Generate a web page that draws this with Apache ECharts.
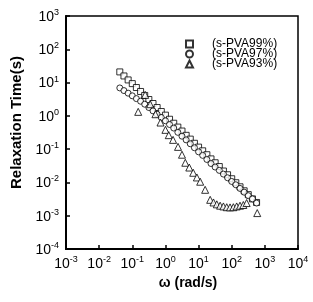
<!DOCTYPE html>
<html><head><meta charset="utf-8">
<script src="https://cdn.jsdelivr.net/npm/echarts@6/dist/echarts.min.js"></script>
<style>html,body{margin:0;padding:0;background:#fff}#c{width:313px;height:302px}</style>
</head><body><div id="c"></div>
<script>
// omega (rad/s) grid shared by the two upper series
const omega = [0.042,0.056,0.075,0.1,0.133,0.178,0.237,0.316,0.422,0.562,0.75,1.0,1.33,1.78,2.37,3.16,4.22,5.62,7.5,10,13.3,17.8,23.7,31.6,42.2,56.2,75,100,133,178,237,316,422,562];
// s-PVA99% relaxation time (s)
const tau99 = [20.9,15.8,12.0,9.3,7.1,5.4,4.1,3.1,2.35,1.78,1.35,1.05,0.79,0.60,0.46,0.35,0.26,0.20,0.15,0.115,0.089,0.068,0.051,0.039,0.030,0.022,0.017,0.0129,0.0098,0.0074,0.0056,0.0043,0.0032,0.0025];
// s-PVA97% relaxation time (s)
const tau97 = [6.9,5.75,4.8,4.0,3.3,2.75,2.24,1.78,1.41,1.12,0.89,0.71,0.55,0.43,0.32,0.245,0.19,0.145,0.11,0.083,0.065,0.049,0.037,0.029,0.023,0.0178,0.0138,0.0107,0.0085,0.0066,0.0051,0.0040,0.0032,0.0024];
// s-PVA93%
const omega93 = [0.151,0.245,0.347,0.50,0.71,1.0,1.26,1.70,2.40,3.16,3.98,5.25,6.9,8.9,11.2,15.8,22.4,28.2,35.5,44.7,56.2,70.8,89,112,141,178,224,282,589];
const tau93 = [1.32,4.27,2.24,1.12,0.63,0.38,0.263,0.19,0.117,0.068,0.039,0.028,0.0195,0.0141,0.0105,0.006,0.0030,0.0025,0.0022,0.0020,0.0019,0.0018,0.00178,0.0018,0.0019,0.0020,0.0021,0.0024,0.0012];
const seriesNames = ['(s-PVA99%)','(s-PVA97%)','(s-PVA93%)'];

const pair = (xs, ys) => xs.map((x, i) => [x, ys[i]]);
const supFmt = v => {
  const e = Math.round(Math.log10(v));
  return '{b|10}{s|' + e + '}';
};
const rich = {
  b: {fontSize: 14, fontFamily: 'Liberation Sans, Arial', color: '#000', lineHeight: 16, verticalAlign: 'bottom'},
  s: {fontSize: 9, fontFamily: 'Liberation Sans, Arial', color: '#000', lineHeight: 16, verticalAlign: 'top', padding: [0,0,6,0]}
};
const mk = {color: '#fff', borderColor: '#000', borderWidth: 1};
const chart = echarts.init(document.getElementById('c'));
chart.setOption({
  animation: false,
  backgroundColor: '#fff',
  grid: {left: 66, top: 16, right: 15, bottom: 53, show: true, borderColor: '#000', borderWidth: 1.5},
  legend: {
    orient: 'vertical', left: 180, top: 33, itemWidth: 7, itemHeight: 7, itemGap: -2,
    textStyle: {fontSize: 12, fontFamily: 'Liberation Sans, Arial', color: '#000', lineHeight: 12, padding: [0,0,0,14]},
    data: seriesNames
  },
  xAxis: {
    type: 'log', logBase: 10, min: 0.001, max: 10000,
    name: 'ω (rad/s)', nameLocation: 'middle', nameGap: 21,
    nameTextStyle: {fontSize: 14, fontWeight: 'bold', fontFamily: 'Liberation Sans, Arial', color: '#000', padding: [0,0,0,12]},
    axisLine: {lineStyle: {color: '#000', width: 2}},
    axisTick: {inside: true, length: 4, lineStyle: {color: '#000', width: 1.5}},
    axisLabel: {formatter: supFmt, rich: rich, margin: 6},
    splitLine: {show: false}
  },
  yAxis: {
    type: 'log', logBase: 10, min: 0.0001, max: 1000,
    name: 'Relaxation Time(s)', nameLocation: 'middle', nameGap: 39,
    nameTextStyle: {fontSize: 15, fontWeight: 'bold', fontFamily: 'Liberation Sans, Arial', color: '#000', padding: [0,0,0,20]},
    axisLine: {lineStyle: {color: '#000', width: 2}},
    axisTick: {inside: true, length: 4, lineStyle: {color: '#000', width: 1.5}},
    axisLabel: {formatter: supFmt, rich: rich, margin: 7},
    splitLine: {show: false}
  },
  series: [
    {name: seriesNames[0], type: 'scatter', symbol: 'rect', symbolSize: 6, itemStyle: mk, data: pair(omega, tau99)},
    {name: seriesNames[1], type: 'scatter', symbol: 'circle', symbolSize: 6, itemStyle: mk, data: pair(omega, tau97)},
    {name: seriesNames[2], type: 'scatter', symbol: 'triangle', symbolSize: 7, itemStyle: mk, data: pair(omega93, tau93)}
  ]
});
</script></body></html>
